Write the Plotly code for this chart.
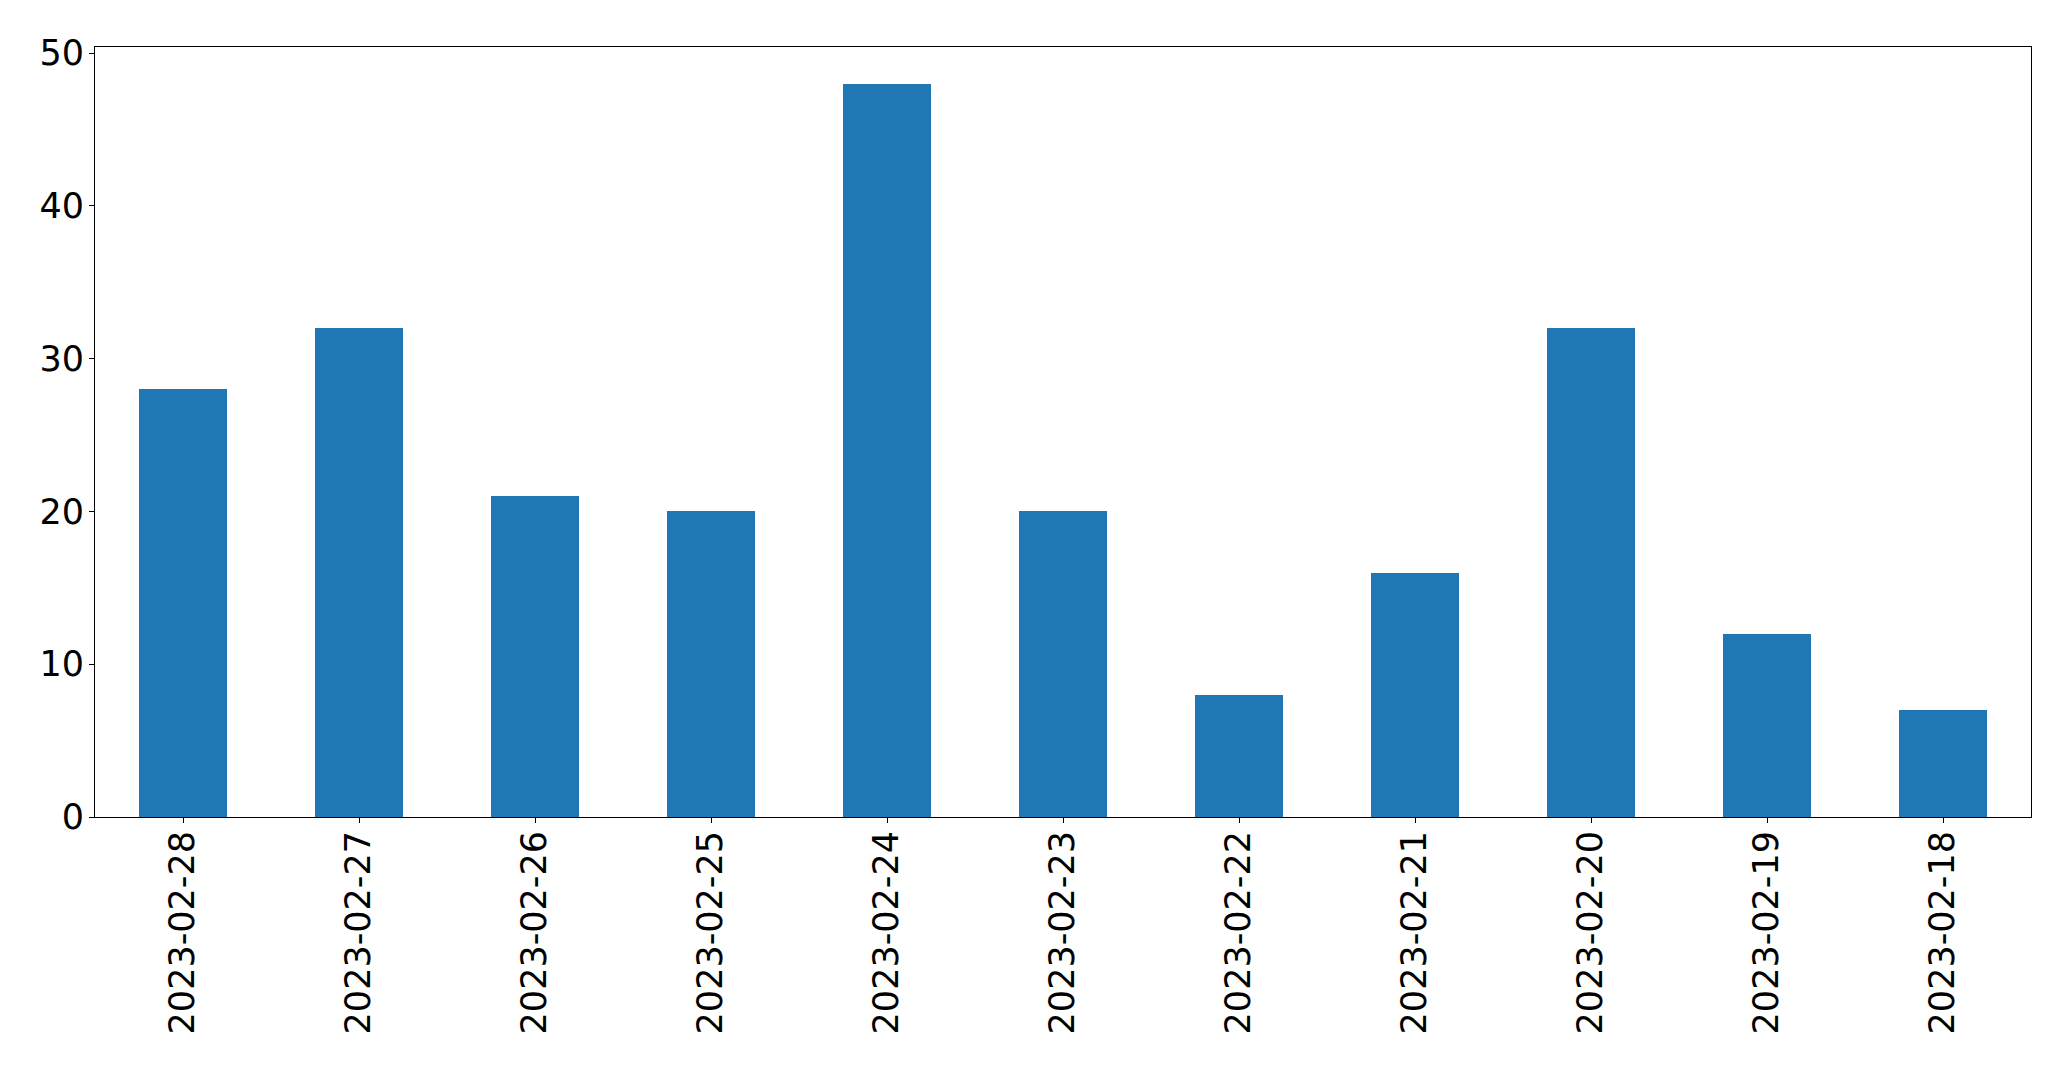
import plotly.graph_objects as go

dates = ["2023-02-28", "2023-02-27", "2023-02-26", "2023-02-25", "2023-02-24",
         "2023-02-23", "2023-02-22", "2023-02-21", "2023-02-20", "2023-02-19",
         "2023-02-18"]
counts = [28, 32, 21, 20, 48, 20, 8, 16, 32, 12, 7]
y_ticks = [0, 10, 20, 30, 40, 50]

fig = go.Figure(go.Bar(x=dates, y=counts, width=0.5, marker_color="#1f77b4",
                       marker_line_width=0))

axis_common = dict(showline=True, linecolor="black", linewidth=1, mirror=True,
                   ticks="outside", ticklen=5, tickcolor="black", tickwidth=1,
                   showgrid=False, zeroline=False,
                   tickfont=dict(family="DejaVu Sans", size=35, color="black"))

fig.update_xaxes(type="category", range=[-0.5, len(dates) - 0.5], tickangle=-90,
                 automargin=False, ticklabelstandoff=-6, **axis_common)
fig.update_yaxes(range=[0, 50.4], tickvals=y_ticks, automargin=False,
                 ticklabelstandoff=-2, **axis_common)

fig.update_layout(width=2063, height=1061,
                  margin=dict(l=87, r=40, t=39, b=252),
                  plot_bgcolor="white", paper_bgcolor="white",
                  showlegend=False, bargap=0)

fig.write_html("out.html")
